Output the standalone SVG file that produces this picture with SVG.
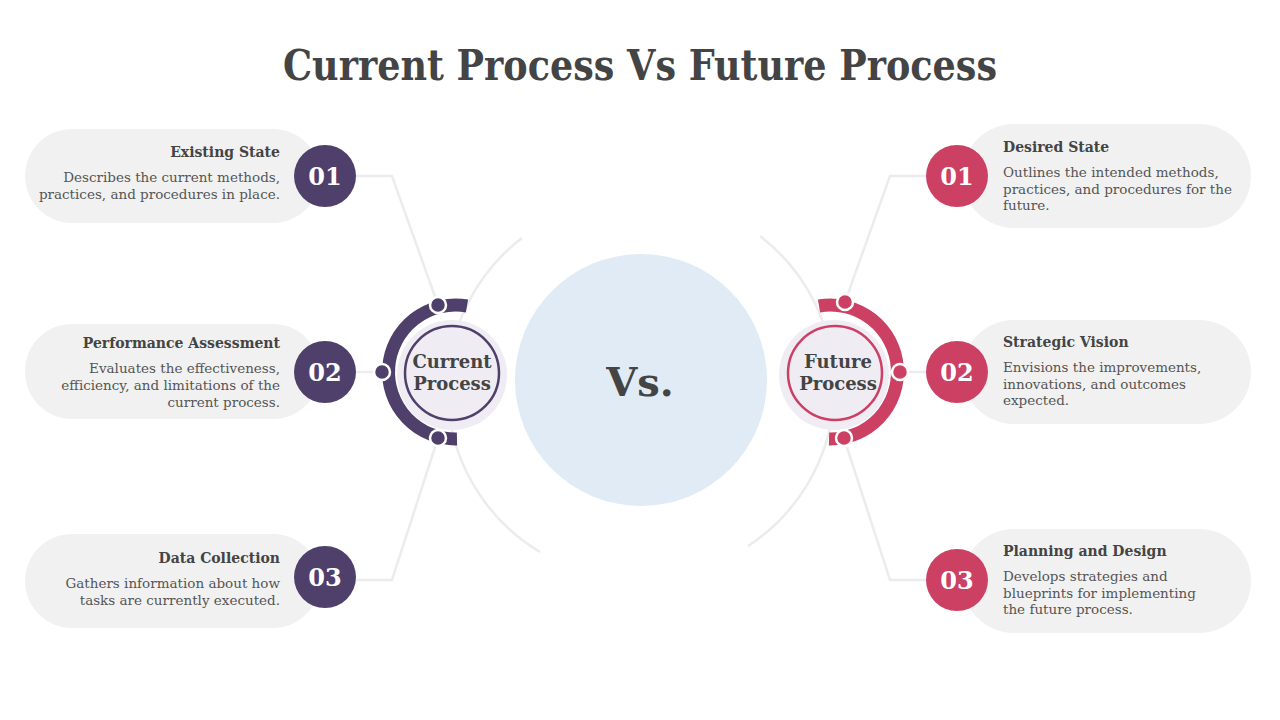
<svg xmlns="http://www.w3.org/2000/svg" width="1280" height="720" viewBox="0 0 1280 720">
<style>
.t{font-family:"DejaVu Serif","Liberation Serif",serif;fill:#444}
.h{font-size:14px;font-weight:bold}
.d{font-size:13.5px;fill:#555}
.n{font-size:24px;fill:#fff;font-weight:bold}
.pill{fill:#f1f1f1}
.ln{fill:none;stroke:#ececef;stroke-width:2.5}
</style>
<rect width="1280" height="720" fill="#fff"/>
<text class="t" x="640" y="80" text-anchor="middle" font-size="42" font-weight="bold" textLength="714" lengthAdjust="spacingAndGlyphs">Current Process Vs Future Process</text>
<g id="connectors">
<path class="ln" d="M522,238 A190,190 0 0 0 540,552"/>
<path class="ln" d="M760,236 A190,190 0 0 1 748,546"/>
<path class="ln" d="M356,176 H392 L438,305"/>
<path class="ln" d="M356,372 H382"/>
<path class="ln" d="M356,580 H392 L438,438"/>
<path class="ln" d="M926,176 H890 L845,302"/>
<path class="ln" d="M926,372 H900"/>
<path class="ln" d="M926,580 H890 L844,438"/>
</g>
<g id="vs"><circle cx="641" cy="380" r="126" fill="#e1ebf5"/>
<text class="t" x="640" y="396" text-anchor="middle" font-size="40" font-weight="bold">Vs.</text></g>
<g id="current">
<path d="M467,306 A67,67 0 1 0 457,439" fill="none" stroke="#4f406b" stroke-width="13"/>
<circle cx="452" cy="375" r="55" fill="#efedf3"/>
<circle cx="452" cy="373" r="47" fill="#efedf3" stroke="#4f406b" stroke-width="2.5"/>
<text class="t" x="452" y="368" text-anchor="middle" font-size="18" font-weight="bold">Current</text>
<text class="t" x="452" y="390" text-anchor="middle" font-size="18" font-weight="bold">Process</text>
<g fill="#4f406b" stroke="#fff" stroke-width="2.5"><circle cx="438" cy="305" r="8"/><circle cx="382" cy="372" r="8"/><circle cx="438" cy="438" r="8"/></g>
</g>
<g id="future">
<path d="M819,306 A67,67 0 1 1 829,439" fill="none" stroke="#cc4063" stroke-width="13"/>
<circle cx="834" cy="375" r="55" fill="#efedf3"/>
<circle cx="835" cy="373" r="47" fill="#efedf3" stroke="#cc4063" stroke-width="2.5"/>
<text class="t" x="838" y="368" text-anchor="middle" font-size="18" font-weight="bold">Future</text>
<text class="t" x="838" y="390" text-anchor="middle" font-size="18" font-weight="bold">Process</text>
<g fill="#cc4063" stroke="#fff" stroke-width="2.5"><circle cx="845" cy="302" r="8"/><circle cx="900" cy="372" r="8"/><circle cx="844" cy="438" r="8"/></g>
</g>
<g id="l1"><rect class="pill" x="25" y="129" width="295" height="94" rx="47"/><circle cx="325" cy="176" r="31" fill="#4f406b"/><text class="t n" x="325" y="185" text-anchor="middle">01</text>
<text class="t h" x="280" y="157" text-anchor="end">Existing State</text>
<text class="t d" x="280" y="182" text-anchor="end">Describes the current methods,</text><text class="t d" x="280" y="199" text-anchor="end">practices, and procedures in place.</text></g>
<g id="l2"><rect class="pill" x="25" y="324" width="295" height="95" rx="47"/><circle cx="325" cy="372" r="31" fill="#4f406b"/><text class="t n" x="325" y="381" text-anchor="middle">02</text>
<text class="t h" x="280" y="348" text-anchor="end">Performance Assessment</text>
<text class="t d" x="280" y="373" text-anchor="end">Evaluates the effectiveness,</text><text class="t d" x="280" y="390" text-anchor="end">efficiency, and limitations of the</text><text class="t d" x="280" y="407" text-anchor="end">current process.</text></g>
<g id="l3"><rect class="pill" x="25" y="534" width="295" height="94" rx="47"/><circle cx="325" cy="577" r="31" fill="#4f406b"/><text class="t n" x="325" y="586" text-anchor="middle">03</text>
<text class="t h" x="280" y="563" text-anchor="end">Data Collection</text>
<text class="t d" x="280" y="588" text-anchor="end">Gathers information about how</text><text class="t d" x="280" y="605" text-anchor="end">tasks are currently executed.</text></g>
<g id="r1"><rect class="pill" x="962" y="124" width="289" height="104" rx="52"/><circle cx="957" cy="176" r="31" fill="#cc4063"/><text class="t n" x="957" y="185" text-anchor="middle">01</text>
<text class="t h" x="1003" y="152">Desired State</text>
<text class="t d" x="1003" y="177">Outlines the intended methods,</text><text class="t d" x="1003" y="194">practices, and procedures for the</text><text class="t d" x="1003" y="210">future.</text></g>
<g id="r2"><rect class="pill" x="962" y="320" width="289" height="104" rx="52"/><circle cx="957" cy="372" r="31" fill="#cc4063"/><text class="t n" x="957" y="381" text-anchor="middle">02</text>
<text class="t h" x="1003" y="347">Strategic Vision</text>
<text class="t d" x="1003" y="372">Envisions the improvements,</text><text class="t d" x="1003" y="389">innovations, and outcomes</text><text class="t d" x="1003" y="405">expected.</text></g>
<g id="r3"><rect class="pill" x="962" y="529" width="289" height="104" rx="52"/><circle cx="957" cy="580" r="31" fill="#cc4063"/><text class="t n" x="957" y="589" text-anchor="middle">03</text>
<text class="t h" x="1003" y="556">Planning and Design</text>
<text class="t d" x="1003" y="581">Develops strategies and</text><text class="t d" x="1003" y="598">blueprints for implementing</text><text class="t d" x="1003" y="614">the future process.</text></g>
</svg>
